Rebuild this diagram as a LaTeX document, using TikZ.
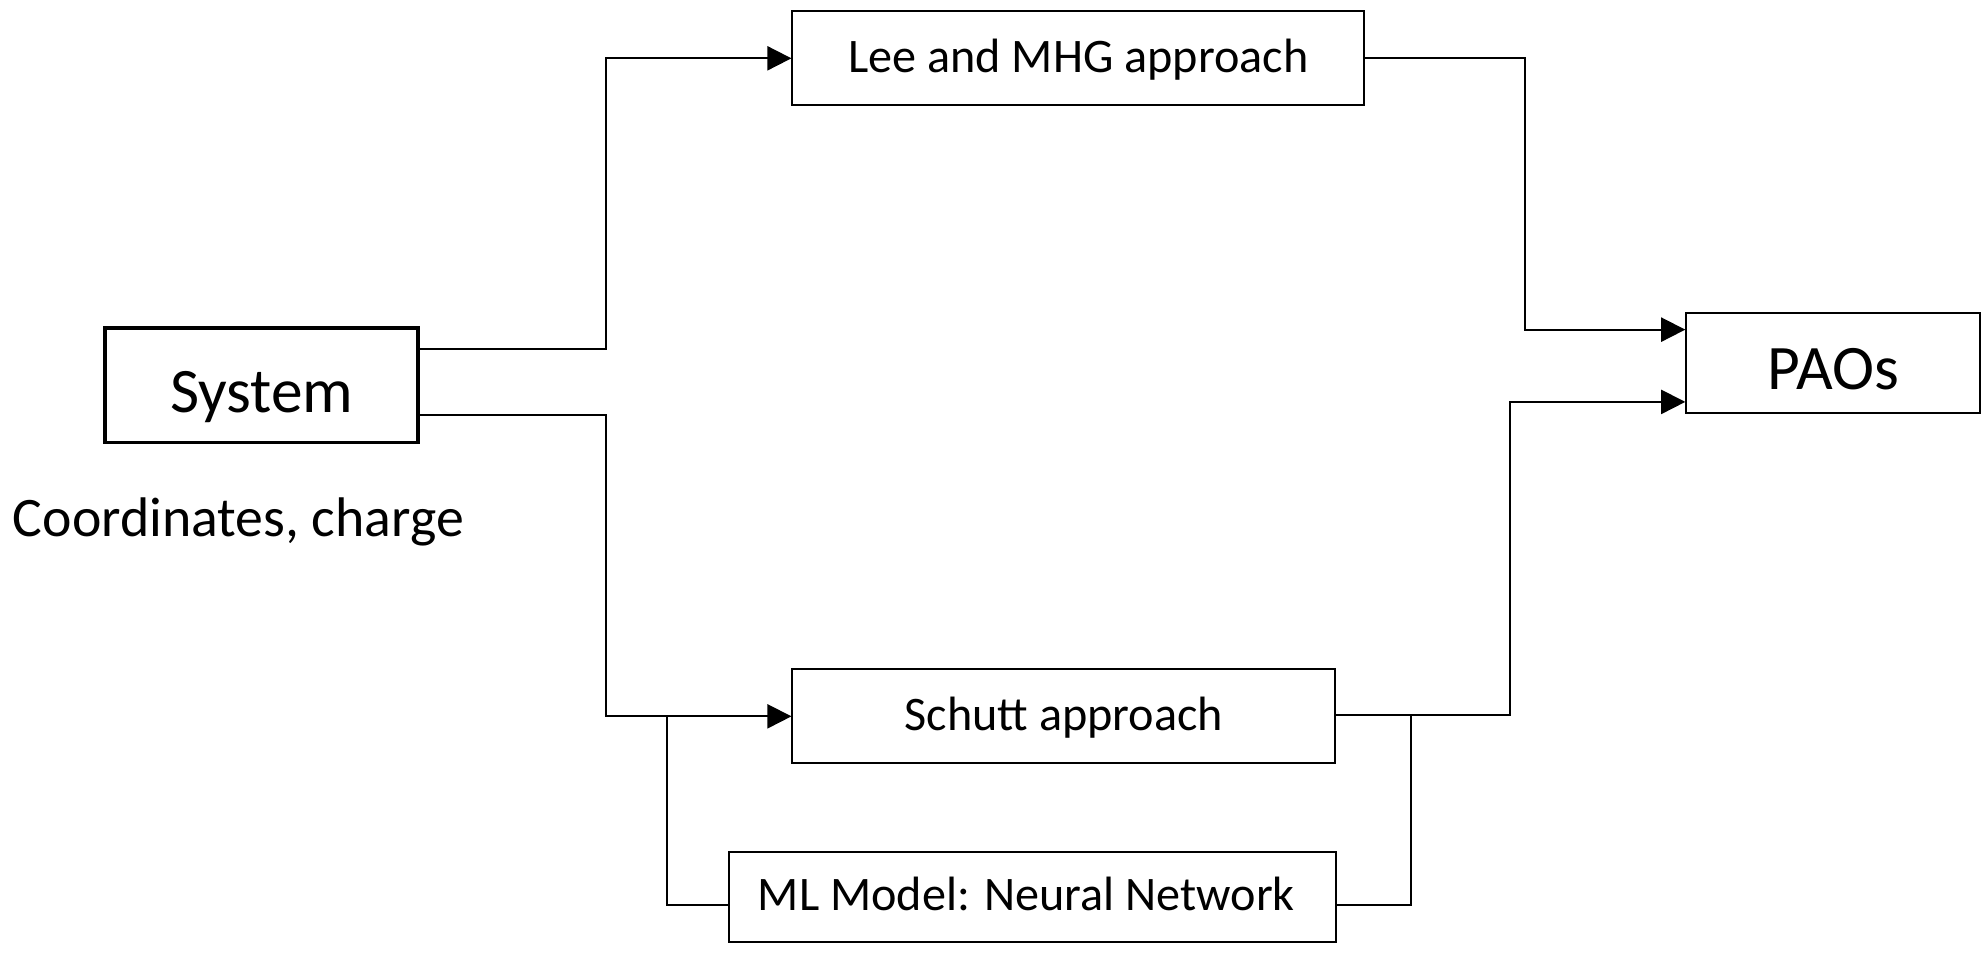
\documentclass[tikz,border=0pt]{standalone}
\usepackage{fontspec}
\setmainfont{Carlito}
\usetikzlibrary{arrows.meta}

\tikzset{
  box/.style={draw, line width=0.75pt, inner sep=0pt, text height=11pt, text depth=0pt, font=\fontsize{19}{22}\selectfont},
  bigbox/.style={box, text height=21pt, font=\fontsize{25}{30}\selectfont},
  flow/.style={line width=0.75pt, -{Triangle[length=9.5pt,width=9.5pt]}},
  link/.style={line width=0.75pt},
}

\begin{document}
\begin{tikzpicture}[x=0.5pt,y=-0.5pt]
  \useasboundingbox (0,0) rectangle (1568,754);

  \node[bigbox, line width=1.5pt, minimum width=123.5pt, minimum height=45pt] (sys) at (206.5,304) {System};
  \draw (188,423) node[anchor=base, font=\fontsize{22}{26}\selectfont] (coords) {Coordinates, charge};

  \node[box, minimum width=225.5pt, minimum height=37pt] (lee) at (850.5,46) {Lee and MHG approach};
  \node[box, minimum width=214pt, minimum height=37pt] (schutt) at (839,565) {Schutt approach};
  \node[box, minimum width=239.5pt, minimum height=35.5pt] (ml) at (814.5,707.5) {ML Model: Neural Network\rule{5pt}{0pt}};
  \node[bigbox, minimum width=116pt, minimum height=39.5pt] (paos) at (1446,286.5) {PAOs};

  \coordinate (split) at (526,565);
  \coordinate (join) at (1113,564);

  \draw[flow] (sys.east |- 0,275) -- (478,275) |- (lee.west);
  \draw[flow] (sys.east |- 0,327) -- (478,327) |- (schutt.west);
  \draw[link] (split) |- (ml.west |- 0,714);

  \draw[flow] (lee.east) -| (1203,260) -- (paos.west |- 0,260);
  \draw[flow] (schutt.east |- join) -| (1191,317) -- (paos.west |- 0,317);
  \draw[link] (ml.east |- 0,714) -| (join);

\end{tikzpicture}
\end{document}
